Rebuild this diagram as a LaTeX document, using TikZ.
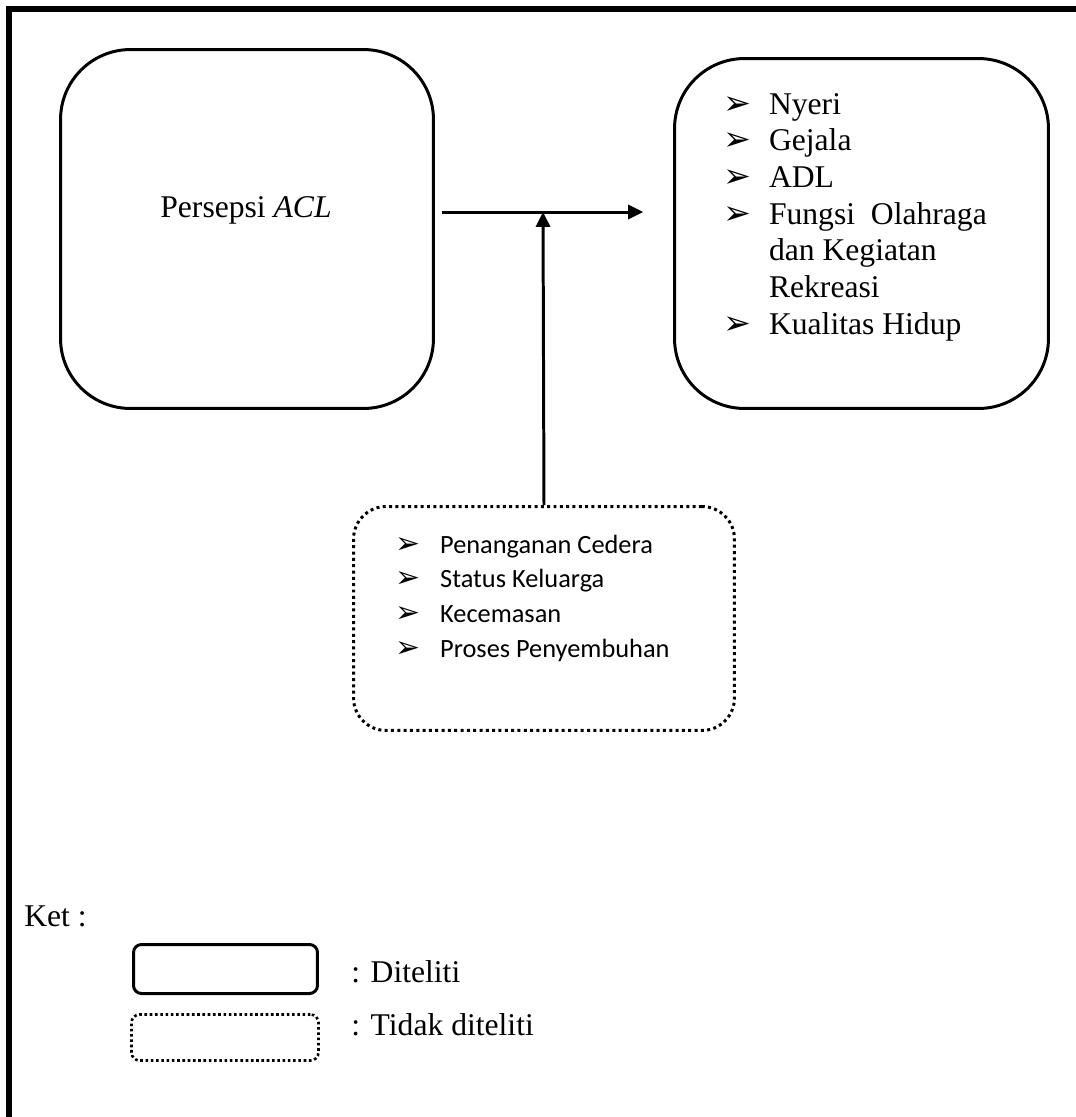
\documentclass[tikz,border=0pt]{standalone}
\usepackage{fontspec}
\setmainfont{Liberation Serif}
\newfontfamily\calibrifont{Carlito}
\newfontfamily\dingfont{DejaVu Sans}
\usetikzlibrary{positioning,calc,arrows.meta}

\newcommand{\panah}[2]{\makebox[#1][l]{\dingfont\fontsize{#2}{#2}\selectfont ➢}}

\begin{document}
\begin{tikzpicture}[x=0.02cm, y=-0.02cm, >={Triangle[length=8.5pt,width=8pt]},
  kotak/.style={draw, line width=1.7pt, rounded corners=1.4cm, inner sep=0pt},
  kotaktitik/.style={draw, line width=1.7pt, dash pattern=on 1.7pt off 1.9pt, rounded corners=0.65cm, inner sep=0pt},
  teks/.style={inner sep=0pt, anchor=base west, font=\fontsize{18}{20.9}\selectfont},
  panahgaris/.style={->, line width=1.7pt}]
  \useasboundingbox (0,0) rectangle (1076,1117);
  % bingkai halaman
  \draw[line width=3.4pt] (9,1117) -- (9,9) -- (1076,9);

  \node[kotak, minimum width=7.46cm, minimum height=7.18cm] (persepsi) at (247,229) {};
  \node[teks, anchor=base] (persepsiteks) at (246,217) {Persepsi \textit{ACL}};

  \node[kotak, minimum width=7.48cm, minimum height=7.0cm] (hasil) at (861.5,233.5) {};
  \node[teks] (hasilteks) at (723,114) {\begin{tabular}[t]{@{}l@{}l@{}}
    \panah{26pt}{19} & Nyeri\\
    \panah{26pt}{19} & Gejala\\
    \panah{26pt}{19} & ADL\\
    \panah{26pt}{19} & Fungsi\ \ Olahraga\\
                     & dan Kegiatan\\
                     & Rekreasi\\
    \panah{26pt}{19} & Kualitas Hidup
  \end{tabular}};

  \node[kotaktitik, minimum width=7.62cm, minimum height=4.48cm] (faktor) at (544,618.5) {};
  \node[teks, font=\calibrifont\fontsize{15}{19.8}\selectfont] (faktorteks) at (395,553) {\begin{tabular}[t]{@{}l@{}l@{}}
    \panah{25.5pt}{17} & Penanganan Cedera\\
    \panah{25.5pt}{17} & Status Keluarga\\
    \panah{25.5pt}{17} & Kecemasan\\
    \panah{25.5pt}{17} & Proses Penyembuhan
  \end{tabular}};

  \coordinate (jalur) at (543,212);
  \draw[panahgaris, shorten <=4pt, shorten >=17pt] (persepsi.east |- jalur) -- (hasil.west |- jalur);
  \draw[panahgaris] (faktor.north) -- (jalur);

  % keterangan
  \node[teks] (ket) at (24,926) {Ket :};
  \node[kotak, rounded corners=0.16cm, minimum width=3.68cm, minimum height=0.98cm] (ketA) at (225.5,969) {};
  \node[teks] (ketAteks) at (351,982) {: Diteliti};
  \node[kotaktitik, rounded corners=0.16cm, line width=1.5pt, dash pattern=on 1.5pt off 1.5pt, minimum width=3.74cm, minimum height=0.92cm] (ketB) at (225,1037.5) {};
  \node[teks] (ketBteks) at (351,1035) {: Tidak diteliti};
\end{tikzpicture}
\end{document}
